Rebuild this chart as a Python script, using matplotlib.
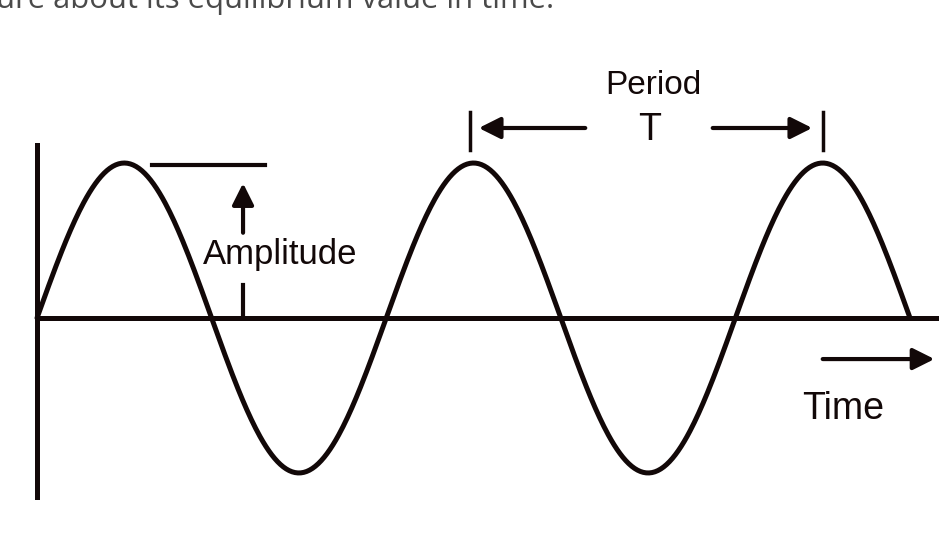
import numpy as np
import matplotlib.pyplot as plt

# wave description
amplitude = 1.0
period = 1.0
cycles = 2.5

label_amp = "Amplitude"
label_period = "Period"
label_t = "T"
label_time = "Time"
caption = "ure about its equilibrium value in time."

ink = "#120808"
plt.rcParams['font.family'] = ['Liberation Sans', 'DejaVu Sans']

fig = plt.figure(figsize=(9.39, 5.43), dpi=100)
ax = fig.add_axes([0, 0, 1, 1])
ax.set_xlim(-0.106, 2.583)
ax.set_ylim(-1.452, 2.052)
ax.axis("off")

# the wave
t = np.linspace(0, cycles * period, 600)
ax.plot(t, amplitude * np.sin(2 * np.pi * t / period), color=ink, lw=3.6,
        solid_capstyle="round")

# axes lines
ax.plot([0, 0], [1.116, -1.155], color=ink, lw=3.6)
ax.plot([0, 2.7], [0, 0], color=ink, lw=3.6)

arrow = dict(arrowstyle="-|>,head_length=0.5,head_width=0.25", color=ink,
             lw=3, mutation_scale=26, shrinkA=0, shrinkB=0)

# amplitude marker
ax.plot([0.33, 0.653], [amplitude * 0.99, amplitude * 0.99], color=ink, lw=3)
ax.annotate("", xy=(0.59, 0.87), xytext=(0.59, 0.55), arrowprops=arrow)
ax.plot([0.59, 0.59], [0.213, 0.0], color=ink, lw=3)
ax.text(0.696, 0.41, label_amp, ha="center", va="center", fontsize=25, color=ink)

# period marker
p0, p1 = 1.24, 2.25
for p in (p0, p1):
    ax.plot([p, p], [1.33, 1.084], color=ink, lw=2.5)
ax.annotate("", xy=(p0 + 0.025, 1.226), xytext=(1.57, 1.226), arrowprops=arrow)
ax.annotate("", xy=(p1 - 0.03, 1.226), xytext=(1.935, 1.226), arrowprops=arrow)
ax.text(1.755, 1.21, label_t, ha="center", va="center", fontsize=27, color=ink)
ax.text(1.765, 1.50, label_period, ha="center", va="center", fontsize=24, color=ink)

# time arrow
ax.annotate("", xy=(2.57, -0.265), xytext=(2.25, -0.265), arrowprops=arrow)
ax.text(2.308, -0.59, label_time, ha="center", va="center", fontsize=27, color=ink)

# cut-off caption at the top, as in the source screenshot
fig.text(-0.004, 1 - 8 / 543, caption, ha="left", va="baseline",
         fontsize=22.3, color="#4a4a4a", family=["Open Sans", "DejaVu Sans"])

fig.savefig("out.png", dpi=100)
